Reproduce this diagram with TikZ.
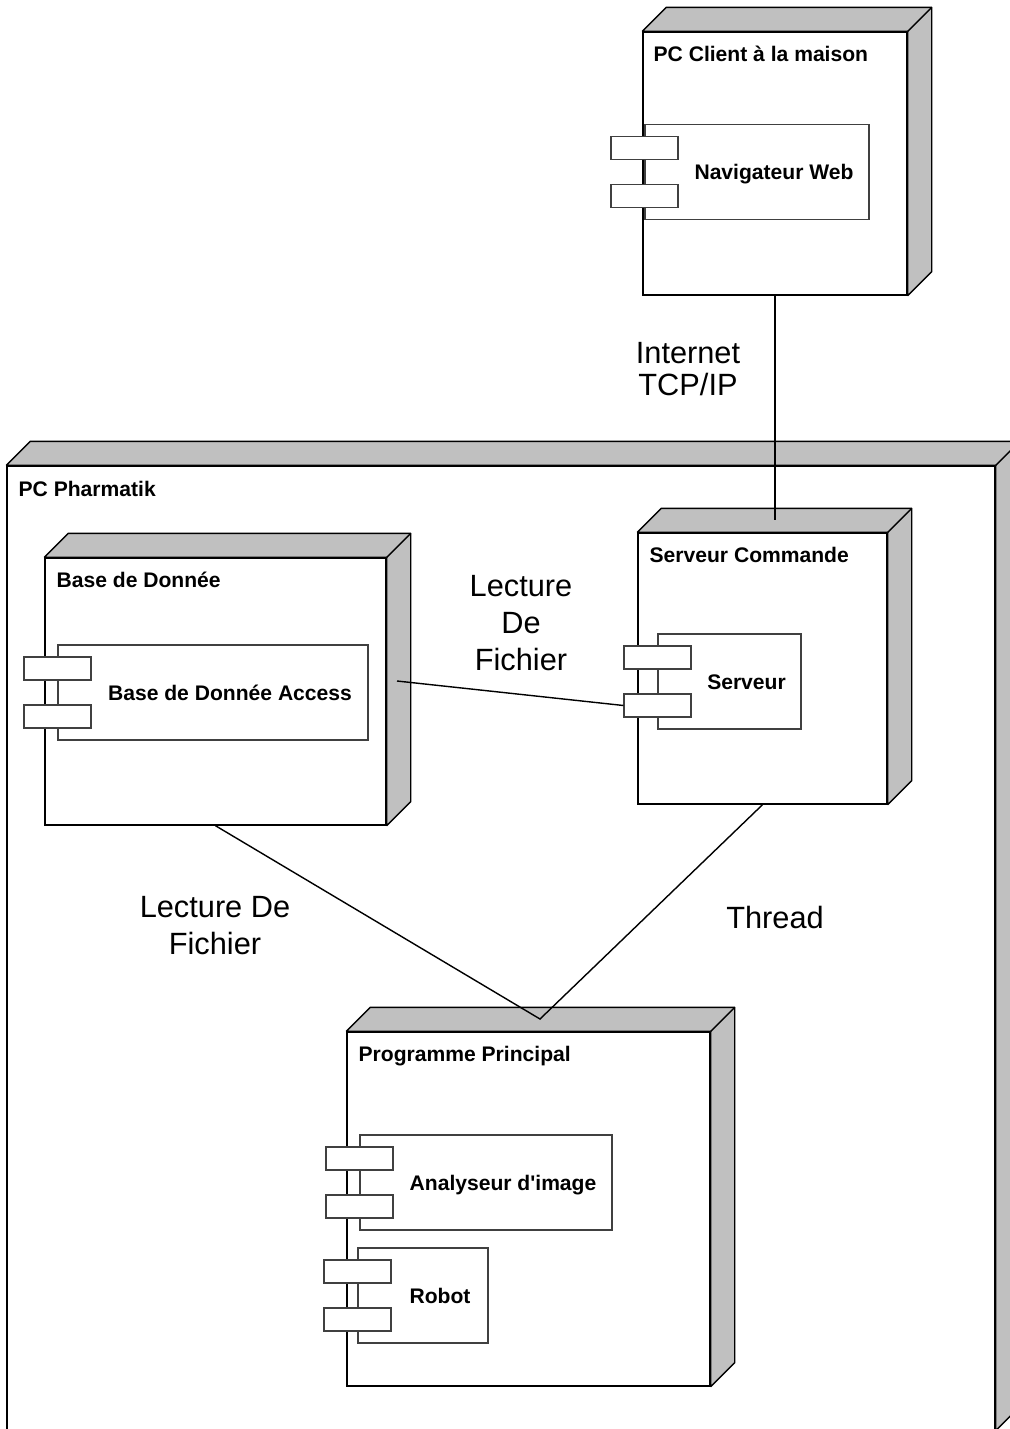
\documentclass[tikz,border=0pt]{standalone}
\usepackage{fontspec}
\setmainfont{Liberation Sans}[Ligatures=TeXOff]
\usepackage{tikz}
\usetikzlibrary{shapes,calc,positioning}

\definecolor{boxgray}{RGB}{192,192,192}

% shaded top and right side of a node box
\newcommand{\boxdepth}[1]{%
  \filldraw[depthface] (#1.north west) -- ++(24,-24) -- ($(#1.north east)+(24,-24)$) -- ($(#1.south east)+(24,-24)$) -- (#1.south east) -- (#1.north east) -- cycle;
  \draw[depthface] (#1.north east) -- ++(24,-24);
}

\begin{document}
\begin{tikzpicture}
  [
    x=0.2mm, y=-0.2mm,
    nodebox/.style={rectangle, draw=black, fill=white, line width=0.8pt, inner sep=0pt},
    depthface/.style={draw=black, fill=boxgray, line width=0.8pt, line join=bevel},
    compbox/.style={rectangle, draw=black!75, fill=white, line width=0.6pt, inner sep=0pt, minimum height=95*0.2mm},
    tabbox/.style={rectangle, draw=black!75, fill=white, line width=0.6pt, inner sep=0pt, minimum width=67*0.2mm, minimum height=23*0.2mm},
    boxsize/.style 2 args={minimum width=#1*0.2mm, minimum height=#2*0.2mm},
    nodetitle/.style={anchor=base west, inner sep=0pt, font=\bfseries\fontsize{12}{14}\selectfont},
    comptext/.style={anchor=base, inner sep=0pt, yshift=-1.5mm, font=\bfseries\fontsize{12}{14}\selectfont},
    linklabel/.style={align=center, inner sep=0pt, font=\fontsize{17.5}{21}\selectfont},
    link/.style={draw=black, line width=0.8pt},
  ]

  \clip (0,0) rectangle (1010,1429);
  \useasboundingbox (0,0) rectangle (1010,1429);

  % nodes
  \node[nodebox, boxsize={988}{964}] (pharma) at (501,948) {};
  \boxdepth{pharma}
  \node[nodetitle] (pharmatitle) at ($(pharma.north west)+(12,31)$) {PC Pharmatik};

  \node[nodebox, boxsize={264}{263}] (client) at (775,163.5) {};
  \boxdepth{client}
  \node[nodetitle] (clienttitle) at ($(client.north west)+(11,30)$) {PC Client à la maison};

  \node[nodebox, boxsize={341}{267}] (db) at (215.5,691.5) {};
  \boxdepth{db}
  \node[nodetitle] (dbtitle) at ($(db.north west)+(12,30)$) {Base de Donnée};

  \node[nodebox, boxsize={249}{271}] (srv) at (762.5,668.5) {};
  \boxdepth{srv}
  \node[nodetitle] (srvtitle) at ($(srv.north west)+(12,30)$) {Serveur Commande};

  \node[nodebox, boxsize={363}{354}] (prog) at (528.5,1209) {};
  \boxdepth{prog}
  \node[nodetitle] (progtitle) at ($(prog.north west)+(12,30)$) {Programme Principal};

  % components
  \node[compbox, minimum width=224*0.2mm] (nav) at (757,172) {};
  \node[tabbox] (navA) at ($(nav.west)+(0,-24)$) {};
  \node[tabbox] (navB) at ($(nav.west)+(0,24)$) {};
  \path (navB.east |- nav.east) -- node[comptext] {Navigateur Web} (nav.east);

  \node[compbox, minimum width=310*0.2mm] (access) at (213,692.5) {};
  \node[tabbox] (accessA) at ($(access.west)+(0,-24)$) {};
  \node[tabbox] (accessB) at ($(access.west)+(0,24)$) {};
  \path (accessB.east |- access.east) -- node[comptext] {Base de Donnée Access} (access.east);

  \node[compbox, minimum width=143*0.2mm] (serveur) at (729.5,681.5) {};
  \node[tabbox] (serveurA) at ($(serveur.west)+(0,-24)$) {};
  \node[tabbox] (serveurB) at ($(serveur.west)+(0,24)$) {};
  \path (serveurB.east |- serveur.east) -- node[comptext] {Serveur} (serveur.east);

  \node[compbox, minimum width=252*0.2mm] (analyse) at (486,1182.5) {};
  \node[tabbox] (analyseA) at ($(analyse.west)+(0,-24)$) {};
  \node[tabbox] (analyseB) at ($(analyse.west)+(0,24)$) {};
  \path (analyseB.east |- analyse.east) -- node[comptext] {Analyseur d'image} (analyse.east);

  \node[compbox, minimum width=130*0.2mm] (robot) at (423,1295.5) {};
  \node[tabbox] (robotA) at ($(robot.west)+(0,-24)$) {};
  \node[tabbox] (robotB) at ($(robot.west)+(0,24)$) {};
  \path (robotB.east |- robot.east) -- node[comptext] {Robot} (robot.east);

  % connectors
  \coordinate (srvtop) at (775,520);
  \coordinate (dbside) at (397,681);
  \coordinate (progtop) at (540,1019);

  \draw[link] (client.south) -- (srvtop);
  \draw[link] (dbside) -- (serveurB.west);
  \draw[link] (db.south) -- (progtop) -- (srv.south);

  \node[linklabel, font=\fontsize{17.5}{18}\selectfont] (inettext) at (688,369) {Internet\\TCP/IP};
  \node[linklabel] (lecturetext) at (521,623) {Lecture\\De\\Fichier};
  \node[linklabel] (lecturetext1) at (215,926) {Lecture De\\Fichier};
  \node[linklabel] (threadtext) at (775,917) {Thread};

\end{tikzpicture}
\end{document}
